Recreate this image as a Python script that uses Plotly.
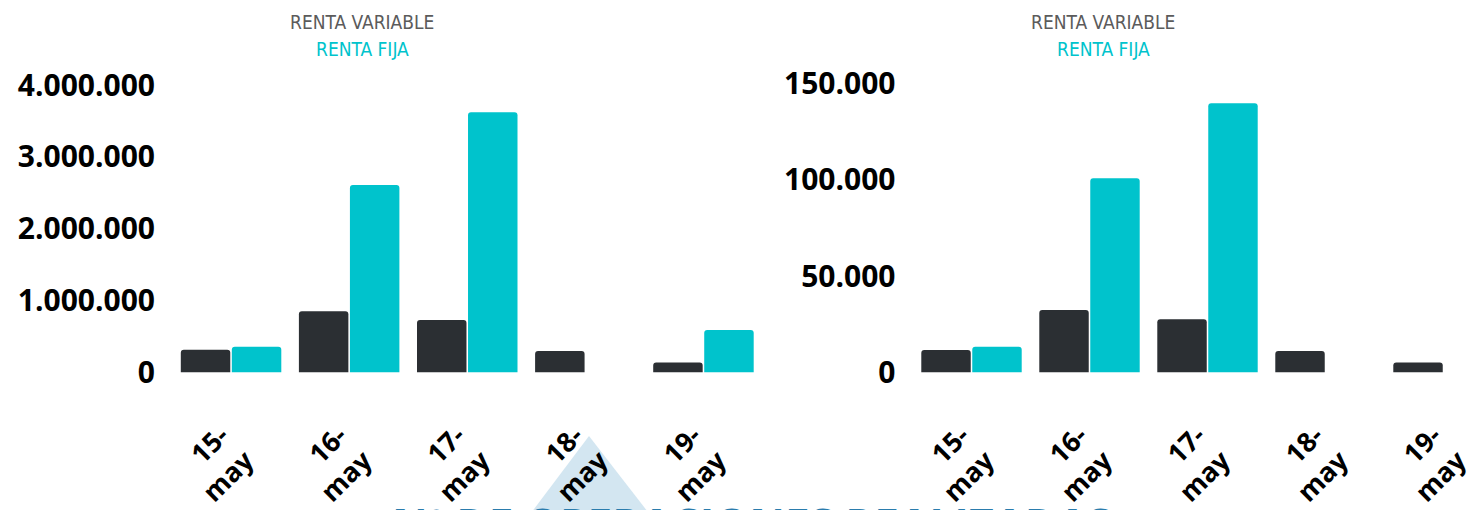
import plotly.graph_objects as go

categories = ["15-may", "16-may", "17-may", "18-may", "19-may"]
tick_labels = ["15-<br>may", "16-<br>may", "17-<br>may", "18-<br>may", "19-<br>may"]
series_names = ["RENTA VARIABLE", "RENTA FIJA"]

left_rv = [315000, 853000, 732000, 300000, 139000]
left_rf = [357000, 2610000, 3620000, 0, 593000]
right_rv = [11700, 32400, 27600, 11100, 5200]
right_rf = [13300, 100700, 139500, 0, 0]

left_ticks = [0, 1000000, 2000000, 3000000, 4000000]
right_ticks = [0, 50000, 100000, 150000]

watermark = "Nº DE OPERACIONES REALIZADAS"

DARK = "#2b2f33"
TEAL = "#00c3cc"
GRAY = "#5b5b5b"

W, H = 1481, 510
OX, OY = 8, 8  # page offset of the plot inside the browser window


def px(x):
    return (x - OX) / W


def py(y):
    return (H - (y - OY)) / H


fig = go.Figure()

for xa, ya, rv, rf in [("x", "y", left_rv, left_rf), ("x2", "y2", right_rv, right_rf)]:
    fig.add_trace(go.Bar(x=categories, y=rv, name=series_names[0], marker=dict(color=DARK, cornerradius=3),
                         xaxis=xa, yaxis=ya, showlegend=False))
    fig.add_trace(go.Bar(x=categories, y=rf, name=series_names[1], marker=dict(color=TEAL, cornerradius=3),
                         xaxis=xa, yaxis=ya, showlegend=False))

tickfont_y = dict(family="Open Sans", size=30, color="#000000", weight=700)
tickfont_x = dict(family="Open Sans", size=27, color="#000000", weight=700)

common_x = dict(type="category", tickmode="array", tickvals=categories, ticktext=tick_labels,
                tickangle=-45, tickfont=tickfont_x, showgrid=False, showline=False, zeroline=False,
                ticks="", ticklabelstandoff=41, ticklabelshift=-10, automargin=False, fixedrange=True)
common_y = dict(showgrid=False, showline=False, zeroline=False, ticks="", tickfont=tickfont_y,
                tickformat=",d", ticklabelstandoff=16, automargin=False, fixedrange=True)

right_end = W + OX  # right edge of the visible plot
fig.update_layout(
    template="none",
    width=W, height=H, autosize=False,
    margin=dict(l=0, r=0, t=0, b=0, pad=0),
    paper_bgcolor="white", plot_bgcolor="white",
    separators=",.",
    barmode="group", bargap=0.136, bargroupgap=0.03,
    xaxis=dict(domain=[px(172), px(762.5)], range=[-0.5, 4.5], anchor="y", **common_x),
    xaxis2=dict(domain=[px(912.5), 1.0], range=[-0.5, 4.5 - (1502.5 - right_end) / 118], anchor="y2", **common_x),
    yaxis=dict(domain=[py(372.5), py(85)], range=[0, 4000000], tickvals=left_ticks,
               anchor="x", **common_y),
    yaxis2=dict(domain=[py(372.5), py(83)], range=[0, 150000], tickvals=right_ticks,
                anchor="x2", **common_y),
    showlegend=False,
)

legend_font = "Liberation Sans Narrow, DejaVu Sans Condensed, sans-serif"
for cx in [px(362), px(1103)]:
    fig.add_annotation(text=series_names[0], x=cx, y=py(22), xref="paper", yref="paper",
                       showarrow=False, font=dict(family=legend_font, size=19, color=GRAY),
                       xanchor="center", yanchor="middle")
    fig.add_annotation(text=series_names[1], x=cx, y=py(49), xref="paper", yref="paper",
                       showarrow=False, font=dict(family=legend_font, size=19, color=TEAL),
                       xanchor="center", yanchor="middle")

# decorative light-blue triangle (background logo fragment)
fig.add_shape(type="path",
              path=f"M {px(522)} {py(525)} L {px(589)} {py(436)} L {px(658)} {py(525)} Z",
              xref="paper", yref="paper", fillcolor="#d3e6f1", line=dict(width=0), layer="below")

fig.add_annotation(text=watermark, x=px(752), y=py(492), xref="paper", yref="paper",
                   showarrow=False, xanchor="center", yanchor="top",
                   font=dict(family="Open Sans", size=44, color="#2a7cad", weight=700))

fig.write_html("out.html")
